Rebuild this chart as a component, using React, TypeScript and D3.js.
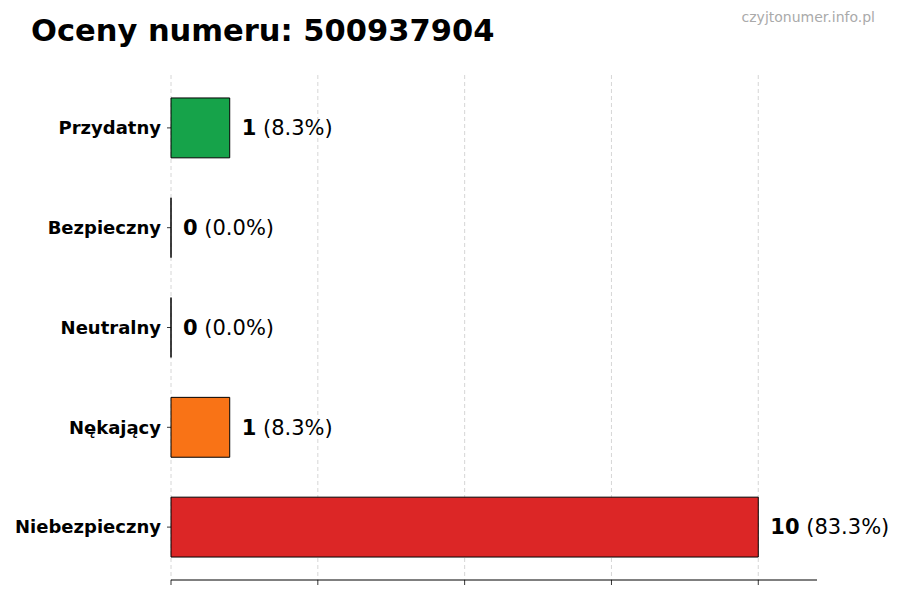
import React from 'react'
import * as d3 from 'd3'

const categories = ['Przydatny', 'Bezpieczny', 'Neutralny', 'Nękający', 'Niebezpieczny']
const counts = [1, 0, 0, 1, 10]
const percents = ['8.3%', '0.0%', '0.0%', '8.3%', '83.3%']
const colors = ['#16a34a', '#9ca3af', '#60a5fa', '#f97316', '#dc2626']
const xTicks = [0, 2.5, 5, 7.5, 10]

const W = 900
const H = 600
const M = { top: 75, right: 83, bottom: 20, left: 171 }
const FONT = 'DejaVu Sans, Verdana, sans-serif'

export default function App() {
  const x = d3.scaleLinear().domain([0, 11]).range([M.left, W - M.right])
  const y = d3
    .scaleBand<string>()
    .domain(categories)
    .range([M.top, H - M.bottom])
    .paddingInner(0.4)
    .paddingOuter(0.23)

  const bottom = H - M.bottom

  // bar outline as a path so zero-width bars still show their edge
  const barPath = (c: string, v: number) => {
    const p = d3.path()
    p.rect(x(0), y(c) as number, x(v) - x(0), y.bandwidth())
    return p.toString()
  }

  return (
    <svg
      width={W}
      height={H}
      style={{ position: 'absolute', left: 0, top: 0, background: '#fff' }}
      fontFamily={FONT}
    >
      <text x={31} y={41} fontSize={30.5} fontWeight="bold" fill="#000">
        Oceny numeru: 500937904
      </text>
      <text x={875} y={22} fontSize={14} fill="#aaaaaa" textAnchor="end">
        czyjtonumer.info.pl
      </text>

      {/* grid */}
      {xTicks.map((t) => (
        <line
          key={'g' + t}
          x1={x(t)}
          x2={x(t)}
          y1={M.top}
          y2={bottom}
          stroke="#cccccc"
          strokeWidth={0.8}
          strokeDasharray="4,3"
        />
      ))}

      {/* bars */}
      {categories.map((c, i) => (
        <path
          key={c}
          d={barPath(c, counts[i])}
          fill={colors[i]}
          stroke="#000"
          strokeWidth={1}
        />
      ))}

      {/* value labels */}
      {categories.map((c, i) => (
        <text
          key={'l' + c}
          x={x(counts[i]) + 12}
          y={(y(c) as number) + y.bandwidth() / 2}
          dy="0.35em"
          fontSize={21}
          fill="#000"
        >
          <tspan fontWeight="bold">{counts[i]}</tspan>
          <tspan> ({percents[i]})</tspan>
        </text>
      ))}

      {/* y axis ticks + labels */}
      {categories.map((c) => {
        const cy = (y(c) as number) + y.bandwidth() / 2
        return (
          <g key={'t' + c}>
            <line x1={x(0) - 4} x2={x(0)} y1={cy} y2={cy} stroke="#000" strokeWidth={0.8} />
            <text
              x={x(0) - 10}
              y={cy}
              dy="0.35em"
              textAnchor="end"
              fontSize={18}
              fontWeight="bold"
              fill="#000"
            >
              {c}
            </text>
          </g>
        )
      })}

      {/* x axis */}
      <line x1={M.left} x2={W - M.right} y1={bottom} y2={bottom} stroke="#000" strokeWidth={1} />
      {xTicks.map((t) => (
        <line key={'xt' + t} x1={x(t)} x2={x(t)} y1={bottom} y2={bottom + 5} stroke="#000" strokeWidth={0.8} />
      ))}
    </svg>
  )
}
